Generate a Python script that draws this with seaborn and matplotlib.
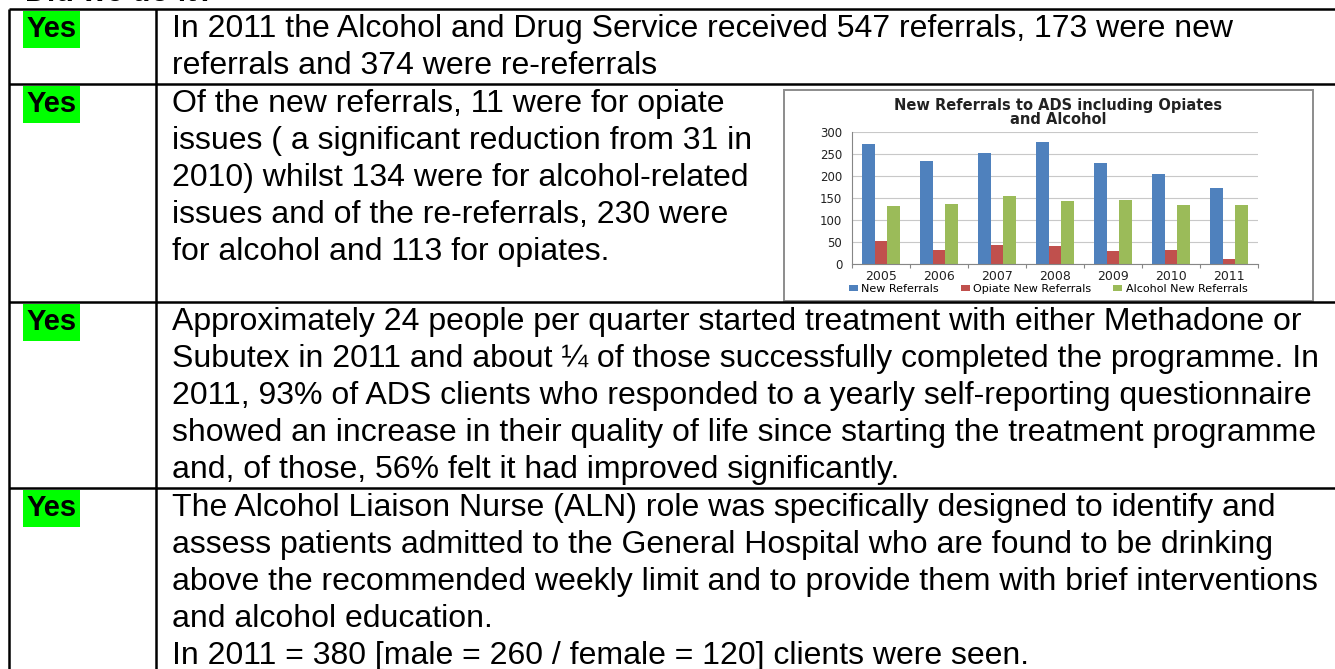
import numpy as np
import pandas as pd
import matplotlib
matplotlib.use('Agg')
import matplotlib.pyplot as plt
import seaborn as sns
from matplotlib.patches import Rectangle

# chart data
years = ['2005', '2006', '2007', '2008', '2009', '2010', '2011']
new_referrals = [273, 234, 251, 277, 229, 205, 173]
opiate_referrals = [52, 31, 43, 41, 30, 31, 11]
alcohol_referrals = [132, 135, 155, 142, 146, 133, 134]
series_names = ['New Referrals', 'Opiate New Referrals', 'Alcohol New Referrals']
series_colors = ['#4F81BD', '#C0504D', '#9BBB59']
y_ticks = [0, 50, 100, 150, 200, 250, 300]
chart_title = 'New Referrals to ADS including Opiates\nand Alcohol'

# document text
page_heading = 'Did we do it?'
status_labels = ['Yes', 'Yes', 'Yes', 'Yes']
row_texts = [
    ['In 2011 the Alcohol and Drug Service received 547 referrals, 173 were new',
     'referrals and 374 were re-referrals'],
    ['Of the new referrals, 11 were for opiate',
     'issues ( a significant reduction from 31 in',
     '2010) whilst 134 were for alcohol-related',
     'issues and of the re-referrals, 230 were',
     'for alcohol and 113 for opiates.'],
    ['Approximately 24 people per quarter started treatment with either Methadone or',
     'Subutex in 2011 and about \u00bc of those successfully completed the programme. In',
     '2011, 93% of ADS clients who responded to a yearly self-reporting questionnaire',
     'showed an increase in their quality of life since starting the treatment programme',
     'and, of those, 56% felt it had improved significantly.'],
    ['The Alcohol Liaison Nurse (ALN) role was specifically designed to identify and',
     'assess patients admitted to the General Hospital who are found to be drinking',
     'above the recommended weekly limit and to provide them with brief interventions',
     'and alcohol education.',
     'In 2011 = 380 [male = 260 / female = 120] clients were seen.'],
]

W, H = 1335, 669
fig = plt.figure(figsize=(W / 100, H / 100), dpi=100)
fig.patch.set_facecolor('white')

#%% page / table drawn in pixel coordinates
bg = fig.add_axes([0, 0, 1, 1])
bg.set_xlim(0, W)
bg.set_ylim(H, 0)
bg.axis('off')

row_tops = [9, 84, 302, 488]
line_step = 37
body_font = 'Liberation Sans'

# heading sits just above the page crop, only its lower edge shows
bg.text(25, 1, page_heading, fontsize=22, fontweight='bold', family=body_font, va='baseline')

for yt in row_tops:
    bg.plot([9, W], [yt, yt], color='black', lw=1.8, solid_capstyle='butt')
for xv in [9, 156]:
    bg.plot([xv, xv], [row_tops[0], H], color='black', lw=1.8, solid_capstyle='butt')

for yt, label, lines in zip(row_tops, status_labels, row_texts):
    bg.add_patch(Rectangle((23, yt + 1.5), 57, 37, facecolor='#00FF00', edgecolor='none'))
    bg.text(51.5, yt + 28, label, fontsize=21, fontweight='bold', family=body_font,
            ha='center', va='baseline')
    for i, s in enumerate(lines):
        bg.text(172, yt + 28 + i * line_step, s, fontsize=23, family=body_font, va='baseline')

# chart frame
bg.add_patch(Rectangle((784, 90), 529, 211, facecolor='white', edgecolor='#8C8C8C', lw=1.4))

#%% embedded bar chart
chart_font = 'DejaVu Sans'
df = pd.DataFrame({
    'year': years * 3,
    'series': np.repeat(series_names, len(years)),
    'value': new_referrals + opiate_referrals + alcohol_referrals,
})

ax = fig.add_axes([852 / W, 1 - 264 / H, 406 / W, 132.3 / H])
sns.barplot(data=df, x='year', y='value', hue='series', palette=series_colors,
            width=0.655, saturation=1, ax=ax)
handles, labels = ax.get_legend_handles_labels()
ax.get_legend().remove()

ax.set_ylim(0, 300)
ax.set_yticks(y_ticks)
ax.set_xlabel('')
ax.set_ylabel('')
ax.set_facecolor('white')
ax.yaxis.grid(True, color='#C8C8C8', lw=0.8)
ax.set_axisbelow(True)
for side in ['top', 'right']:
    ax.spines[side].set_visible(False)
for side in ['left', 'bottom']:
    ax.spines[side].set_color('#868686')
    ax.spines[side].set_linewidth(0.8)

ax.set_xticks(np.arange(-0.5, len(years), 1), minor=True)
ax.tick_params(axis='x', which='major', length=0, pad=4, labelsize=9, labelcolor='#222222')
ax.tick_params(axis='x', which='minor', length=3, color='#868686', width=0.8)
ax.tick_params(axis='y', length=0, pad=7, labelsize=8.5, labelcolor='#222222')
for t in ax.get_xticklabels() + ax.get_yticklabels():
    t.set_family(chart_font)

fig.text(1058 / W, 1 - 98 / H, chart_title, ha='center', va='top', fontsize=10.5,
         fontweight='bold', family=chart_font, linespacing=0.95, color='#222222')

fig.legend(handles, labels, loc='center', ncol=3, frameon=False,
           bbox_to_anchor=(1048 / W, 1 - 289 / H),
           prop={'family': chart_font, 'size': 8}, handlelength=0.8, handleheight=0.5,
           handletextpad=0.3, columnspacing=2.0, borderaxespad=0, borderpad=0)

fig.savefig('out.png', dpi=100)
